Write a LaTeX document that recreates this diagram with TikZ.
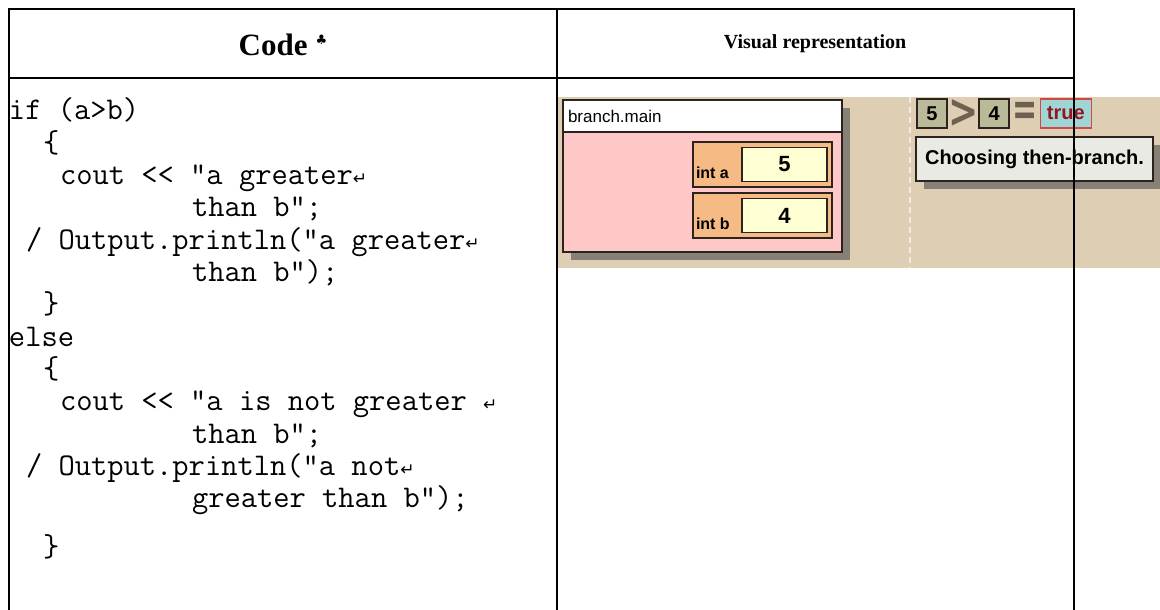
\documentclass[tikz,border=0pt]{standalone}
\usepackage{fontspec}
\usepackage{graphicx}
\setmainfont{Liberation Serif}
\newfontfamily\guifont{Liberation Sans}
\newfontfamily\symfont{DejaVu Sans}
\usetikzlibrary{positioning}

\definecolor{desk}{RGB}{221,206,180}
\definecolor{shadowgray}{RGB}{135,128,118}
\definecolor{edge}{RGB}{45,35,30}
\definecolor{pinkbody}{RGB}{255,200,200}
\definecolor{varlabel}{RGB}{246,186,132}
\definecolor{varval}{RGB}{255,255,212}
\definecolor{olive}{RGB}{186,186,152}
\definecolor{opclr}{RGB}{112,96,82}
\definecolor{truefill}{RGB}{158,214,214}
\definecolor{trueedge}{RGB}{214,70,70}
\definecolor{truetext}{RGB}{150,20,32}
\definecolor{note}{RGB}{234,234,228}

\newcommand{\ret}{{\symfont\fontsize{17}{17}\selectfont ↵}}
\newcommand{\club}{{\symfont\fontsize{13}{13}\selectfont\raisebox{11pt}{♣}}}

\begin{document}
\begin{tikzpicture}[
        x=1pt,
        y=-1pt,
        every node/.style={inner sep=0pt, outer sep=0pt},
        rule/.style={line width=2.5pt},
        head/.style={font=\bfseries\fontsize{#1}{#1}\selectfont},
        codeline/.style={anchor=base west, font=\ttfamily\fontsize{31.6}{34}\selectfont},
        frame/.style={draw=edge, line width=1.6pt, anchor=north west},
        boxsize/.style 2 args={minimum width=#1pt, minimum height=#2pt},
        gui/.style={font=\guifont\bfseries\fontsize{#1}{#1}\selectfont},
        guiplain/.style={font=\guifont\fontsize{#1}{#1}\selectfont},
        op/.style={font=\symfont\bfseries\fontsize{#1}{#1}\selectfont, text=opclr}
    ]
    \useasboundingbox (0,0) rectangle (1160,610);

    % header
    \node[head=31] (hcode) at (283,45) {Code\hspace{8pt}\club};
    \node[head=20] (hvis) at (815,44) {Visual representation};

    % code column
    \node[codeline] (l1) at (9,120) {if (a>b)};
    \node[codeline] (l2) at (43,152.3) {\{};
    \node[codeline] (l3) at (60,184.6) {cout << "a greater\ret};
    \node[codeline] (l4) at (192,216.9) {than b";};
    \node[codeline] (l5) at (26,249.2) {/ Output.println("a greater\ret};
    \node[codeline] (l6) at (192,281.5) {than b");};
    \node[codeline] (l7) at (43,313.8) {\}};
    \node[codeline] (l8) at (9,346.1) {else};
    \node[codeline] (l9) at (43,378.4) {\{};
    \node[codeline] (l10) at (60,410.7) {cout << "a is not greater \ret};
    \node[codeline] (l11) at (192,443) {than b";};
    \node[codeline] (l12) at (26,475.3) {/ Output.println("a not\ret};
    \node[codeline] (l13) at (192,507.6) {greater than b");};
    \node[codeline] (l14) at (43,556) {\}};

    % screenshot
    \fill[desk] (558,97) rectangle (1160,268);
    \draw[white, opacity=.6, line width=1.5pt, dash pattern=on 6pt off 4pt] (910,97) -- (910,268);

    \fill[shadowgray] (571,108) rectangle (850,260);
    \node[frame, fill=pinkbody, boxsize={279}{152}] (frm) at (563,100) {};
    \node[frame, fill=white, boxsize={279}{32}] (title) at (563,100) {};
    \node[guiplain=17, anchor=west] (tname) at ([xshift=5pt]title.west) {branch.main};

    \node[frame, fill=varlabel, boxsize={139}{45}] (vara) at (693,142) {};
    \node[frame, fill=varval, boxsize={85}{34}, anchor=east, gui=22] (vala) at ([xshift=-5pt]vara.east) {5};
    \node[gui=16, anchor=base west] (namea) at ([xshift=3pt, yshift=9pt]vara.south west) {int a};

    \node[frame, fill=varlabel, boxsize={139}{45}] (varb) at (693,193) {};
    \node[frame, fill=varval, boxsize={85}{34}, anchor=east, gui=22] (valb) at ([xshift=-5pt]varb.east) {4};
    \node[gui=16, anchor=base west] (nameb) at ([xshift=3pt, yshift=9pt]varb.south west) {int b};

    \node[frame, fill=olive, boxsize={30}{29}, gui=20] (lhs) at (917,99) {5};
    \node[op=36, right=1pt of lhs] (gt) {\scalebox{1}[1.3]{>}};
    \node[frame, fill=olive, boxsize={30}{29}, gui=20, right=1pt of gt] (rhs) {4};
    \node[op=30, right=3pt of rhs] (eq) {\scalebox{1}[1.6]{=}};
    \node[draw=trueedge, line width=1.2pt, fill=truefill, boxsize={51}{29}, gui=20, text=truetext, right=3pt of eq] (res) {true};

    \fill[shadowgray] (924,145) rectangle (1160,189);
    \node[frame, fill=note, boxsize={237}{44}, gui=20] (msg) at (916,137) {Choosing then-branch.};

    % table rules
    \draw[rule] (9,610) -- (9,9) -- (1074,9) -- (1074,610);
    \draw[rule] (9,78) -- (1074,78);
    \draw[rule] (557,9) -- (557,610);
\end{tikzpicture}
\end{document}
